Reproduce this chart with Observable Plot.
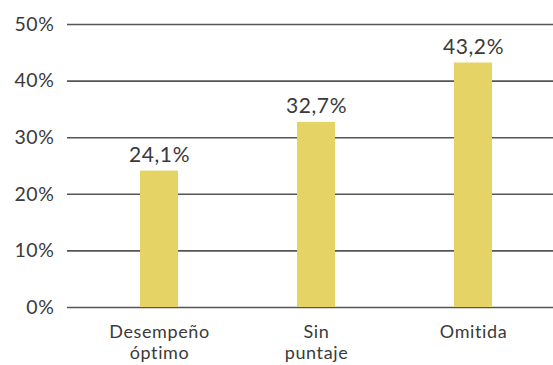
<!DOCTYPE html>
<html><head><meta charset="utf-8">
<script src="https://cdn.jsdelivr.net/npm/d3@7"></script>
<script src="https://cdn.jsdelivr.net/npm/@observablehq/plot@0.6"></script>
<style>body{margin:0;background:#fff;} svg{display:block;} svg text{letter-spacing:0.6px;}</style>
</head><body>
<div id="chart"></div>
<script>
const categories = ["Desempeño óptimo", "Sin puntaje", "Omitida"];
const tickLabels = ["Desempeño\nóptimo", "Sin\npuntaje", "Omitida"];
const values = [24.1, 32.7, 43.2];
const yTicks = [0, 10, 20, 30, 40, 50];

const data = categories.map((c, i) => ({cat: c, v: values[i]}));
const fmt = v => v.toFixed(1).replace(".", ",") + "%";

const chart = Plot.plot({
  width: 553, height: 365,
  marginLeft: 67, marginRight: 0, marginTop: 24, marginBottom: 58,
  style: {fontFamily: "Lato, 'Open Sans', sans-serif", color: "#3a3a3a", background: "#fff"},
  x: {domain: categories, insetLeft: 12.5, paddingInner: 0.76, paddingOuter: 0.38, label: null},
  y: {domain: [0, 50], label: null},
  marks: [
    Plot.gridY(yTicks, {stroke: "#555", strokeOpacity: 1, strokeWidth: 1.6}),
    Plot.axisY(yTicks, {tickSize: 0, tickPadding: 13, fontSize: 19.5, tickFormat: d => d + "%", label: null}),
    Plot.axisX({tickSize: 0, tickPadding: 15, fontSize: 18, tickFormat: (d) => tickLabels[categories.indexOf(d)], lineHeight: 1.2, label: null}),
    Plot.barY(data, {x: "cat", y: "v", fill: "#E5D366"}),
    Plot.ruleX([0], {frameAnchor: "left", stroke: "#555", strokeWidth: 1.6}),
    Plot.text(data, {x: "cat", y: "v", text: d => fmt(d.v), lineAnchor: "bottom", dy: -9, fontSize: 21, fill: "#3a3a3a"})
  ]
});
document.getElementById("chart").append(chart);
</script>
</body></html>
